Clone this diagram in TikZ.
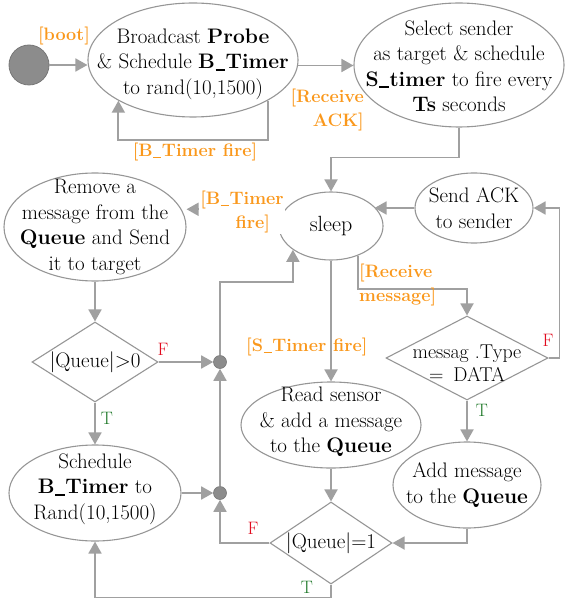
\documentclass[tikz,border=0pt]{standalone}
\usepackage{fontspec}
\usetikzlibrary{shapes.geometric,arrows.meta}
\definecolor{linegray}{RGB}{160,160,160}
\definecolor{edgegray}{RGB}{150,150,150}
\definecolor{dotgray}{RGB}{140,140,140}
\definecolor{guardorange}{RGB}{250,152,28}
\definecolor{falsered}{RGB}{225,10,30}
\definecolor{truegreen}{RGB}{30,120,40}
% short underscore used inside timer names
\newcommand\uscore{\kern0.03em\rule[-0.1em]{0.45em}{0.085em}\kern0.03em}
\begin{document}
\begin{tikzpicture}[x=1pt,y=-1pt,
  conn/.style={draw=linegray,line width=1.8pt},
  arr/.style={conn,-{Triangle[length=12pt,width=13pt]}},
  stateshape/.style={ellipse,draw=edgegray,line width=1.1pt,inner sep=0pt},
  decshape/.style={diamond,draw=edgegray,line width=1.1pt,inner sep=0pt},
  body/.style={align=center,inner sep=0pt,font=\fontsize{21}{25.5}\selectfont},
  guard/.style={text=guardorange,inner sep=0pt,font=\fontsize{18}{24}\selectfont\bfseries},
  tf/.style={inner sep=0pt,font=\fontsize{18}{20}\selectfont},
  junction/.style={circle,fill=dotgray,draw=dotgray!85!black,line width=0.6pt,minimum size=13pt,inner sep=0pt},
]
\useasboundingbox (0,0) rectangle (565,601);

% initial state
\node[circle,fill=dotgray,draw=dotgray!85!black,line width=0.8pt,minimum size=40pt,inner sep=0pt] (start) at (29,65) {};

% states (shape + text)
\node[stateshape,minimum width=210pt,minimum height=114pt] (bcast) at (193,60) {};
\node[body] (bcast-txt) at (193,64) {Broadcast \textbf{Probe}\\\& Schedule \textbf{B\uscore Timer}\\to rand(10,1500)};

\node[stateshape,minimum width=210pt,minimum height=124pt] (sel) at (459,65) {};
\node[body] (sel-txt) at (459,66) {Select sender\\as target \& schedule\\\textbf{S\uscore timer} to fire every\\\textbf{Ts} seconds};

\node[stateshape,minimum width=104pt,minimum height=68pt] (sleep) at (331,226) {};
\node[body,font=\fontsize{22}{26}\selectfont] (sleep-txt) at (331,226) {sleep};

\node[stateshape,minimum width=118pt,minimum height=70pt] (ack) at (474,208) {};
\node[body] (ack-txt) at (474,208) {Send ACK\\to sender};

\node[stateshape,minimum width=182pt,minimum height=108pt] (rem) at (95,227) {};
\node[body] (rem-txt) at (95,227) {Remove a\\message from the\\\textbf{Queue} and Send\\it to target};

\node[stateshape,minimum width=172pt,minimum height=96pt] (sched) at (95,493) {};
\node[body] (sched-txt) at (95,489) {Schedule\\\textbf{B\uscore Timer} to\\Rand(10,1500)};

\node[stateshape,minimum width=180pt,minimum height=86pt] (read) at (331,425) {};
\node[body] (read-txt) at (331,422) {Read sensor\\\& add a message\\to the \textbf{Queue}};

\node[stateshape,minimum width=148pt,minimum height=86pt] (add) at (467,485) {};
\node[body] (add-txt) at (467,485) {Add message\\to the \textbf{Queue}};

% decisions
\node[decshape,minimum width=126pt,minimum height=80pt] (qpos) at (95,362) {};
\node[body] (qpos-txt) at (95,362) {|Queue|>0};

\node[decshape,minimum width=162pt,minimum height=84pt] (mtype) at (467,358) {};
\node[body,font=\fontsize{20}{23}\selectfont] (mtype-txt) at (467,363) {messag .Type\\=\enspace DATA};

\node[decshape,minimum width=122pt,minimum height=82pt] (qone) at (331,543) {};
\node[body] (qone-txt) at (331,543) {|Queue|=1};

% junctions
\node[junction] (j1) at (220,362) {};
\node[junction] (j2) at (220,493) {};

% connectors
\draw[arr] (start) -- (start -| bcast.west);
\draw[arr] (bcast.south east) -- ++(0,39) -| (bcast.south west);
\draw[arr] (bcast.-3) -- (bcast.-3 -| sel.west);
\draw[arr] (sel.south) -- ++(0,30) -| (sleep.north);
\draw[arr] (ack.west) -- (ack.west -| sleep.24);
\draw[arr] (mtype.east) -- ++(11,0) |- (ack.east);
\draw[arr] (sleep.160) -- (sleep.160 -| rem.east);
\draw[arr] (rem.south) -- (qpos.north);
\draw[arr] (qpos.east) -- (j1);
\draw[arr] (qpos.south) -- (sched.north);
\draw[arr] (sched.east) -- (j2);
\draw[arr] (j2) -- (j1);
\draw[arr] (j1) -- ++(0,-80) -| (sleep.-148);
\draw[arr] (sleep.south) -- (read.north);
\draw[arr] (sleep.-48) -- ++(0,33) -| (mtype.north);
\draw[arr] (mtype.south) -- (add.north);
\draw[arr] (read.south) -- (qone.north);
\draw[arr] (add.south) |- (qone.east);
\draw[arr] (qone.west) -| (j2);
\draw[arr] (qone.south) -- ++(0,13) -| (sched.south);

% guards
\node[guard] (g-boot) at (64,36) {[boot]};
\node[guard] (g-loop) at (195,152) {[B\uscore Timer fire]};
\node[guard,align=right,anchor=east] (g-ack) at (364,110) {[Receive\\ACK]};
\node[guard,align=center,fill=white,inner sep=1pt] (g-btimer) at (242,212) {[B\uscore Timer\\\hspace*{1.2em}fire]};
\node[guard,align=left,anchor=west] (g-rx) at (359,285) {[Receive\\message]};
\node[guard,anchor=west] (g-stimer) at (246,347) {[S\uscore Timer fire]};

% branch outcomes
\node[tf,text=falsered] (f1) at (163,349) {F};
\node[tf,text=truegreen] (t1) at (107,418) {T};
\node[tf,text=falsered] (f2) at (253,528) {F};
\node[tf,text=truegreen] (t2) at (307,587) {T};
\node[tf,text=truegreen] (t3) at (482,410) {T};
\node[tf,text=falsered] (f3) at (548,340) {F};
\end{tikzpicture}
\end{document}
